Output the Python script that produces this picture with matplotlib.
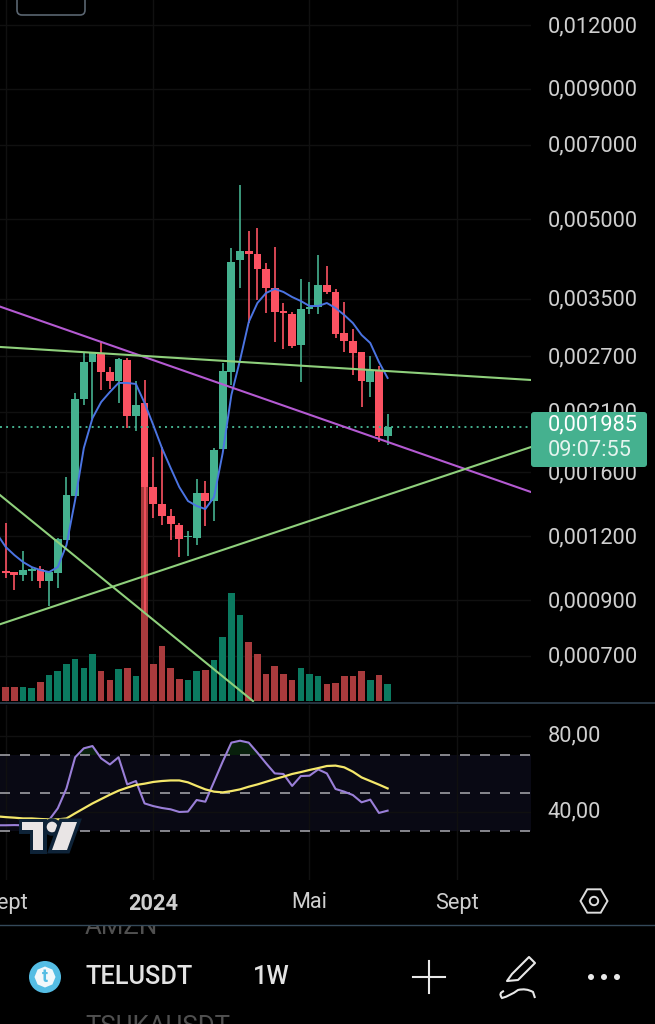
import numpy as np
import matplotlib
matplotlib.use("Agg")
import matplotlib.pyplot as plt
from matplotlib.patches import FancyBboxPatch, Polygon, Circle, RegularPolygon
from matplotlib.path import Path
from matplotlib.patches import PathPatch
from matplotlib.ticker import FixedLocator, FixedFormatter, NullLocator
from matplotlib.transforms import ScaledTranslation
import matplotlib.patheffects as pe

plt.rcParams['font.family'] = ['Roboto', 'DejaVu Sans']
plt.rcParams['lines.scale_dashes'] = False

# ---- data (prices in 1e-6 USDT) ----
opens  = [1025,1021,1007,1025,1034,981,1016,1179,1438,2226,2630,2739,2515,2414,2654,2062,2186,1497,1386,1315,1262,1195,1190,1457,1406,1777,2515,4164,4337,4278,3998,3671,3309,3264,2840,3339,3369,3721,3605,2996,2891,2751,2403,2525,1885]
highs  = [1274,1021,1122,1039,1049,1021,1190,1567,2288,2751,2751,2878,2572,2678,2678,2414,2425,1714,1793,1356,1274,1228,1553,1539,1785,2619,4394,5839,4744,4809,4108,4415,3430,3295,3822,3771,4260,4054,3655,3446,3052,2751,2703,2583,2080]
lows   = [994,942,981,981,951,876,951,1179,1438,2166,2034,2318,2329,2186,1954,1928,852,1302,1262,1179,1093,1099,1153,1256,1285,1777,2371,3671,3134,3477,3279,2878,2788,2801,2403,3264,3264,3572,2930,2751,2481,2147,2247,1835,1810]
closes = [1016,1007,1030,1034,981,1021,1185,1444,2226,2630,2739,2515,2414,2666,2062,2166,1497,1386,1315,1268,1185,1201,1457,1406,1769,2525,4127,4337,4278,3998,3671,3295,3279,2827,3339,3369,3721,3605,2982,2891,2739,2414,2537,1885,1963]
volumes = [14,14,14,13,19,26,30,37,42,33,47,30,21,32,33,25,250,37,55,33,22,21,30,31,41,64,108,86,59,47,27,35,27,21,33,27,25,17,18,25,25,30,21,26,17]

# moving average, starts one bar before the first candle
ma20 = [1212,1143,1102,1068,1044,1030,1021,1044,1153,1412,1785,2043,2196,2297,2393,2393,2382,2186,1980,1785,1632,1497,1406,1375,1356,1431,1745,2267,2654,3149,3430,3589,3655,3605,3524,3461,3384,3384,3430,3354,3250,3134,2970,2865,2630,2447]
rsi = [33,33,33.1,33,33,34,35.8,41.9,52.4,68.8,73.5,74.7,68.2,65,68.8,54.5,56.3,44.5,43.1,42.1,41.4,40,40.2,46.3,45.4,55.9,66.5,76.5,77.5,76.5,71.2,65.6,60.3,60,53.7,58.9,59.1,62.4,60.3,52.1,50.7,48.9,45.1,46.5,39.5,40.7]
rsi_ma = [37.7,37.3,37,36.6,36.6,36.3,36.1,36.1,36.6,39.3,41.9,44.5,46.8,49.1,51.2,52.8,54.2,54.9,55.8,56.3,56.6,56.6,55.6,53.7,51.9,50.7,50.3,51,51.9,53.3,54.5,55.9,57.3,58.6,60,61,62.1,63.1,64.2,64.4,63.5,61.2,58.2,56.3,54.4,52.4]

# trend lines: (bar index pair, price pair in 1e-6)
trend_magenta = ([-0.657, 60.52], [3375, 1464])
trend_flat    = ([-0.657, 60.52], [2814, 2425])
trend_rising  = ([-0.657, 60.52], [807, 1793])
trend_falling = ([-0.657, 28.49], [1444, 571])

last_line = 1963
price_ticks = [0.012, 0.009, 0.007, 0.005, 0.0035, 0.0027, 0.0021, 0.0016, 0.0012, 0.0009, 0.0007]
price_labels = ['0,012000','0,009000','0,007000','0,005000','0,003500','0,002700','0,002100','0,001600','0,001200','0,000900','0,000700']
time_ticks = [0, 17, 35, 52]
time_labels = ['Sept', '2024', 'Mai', 'Sept']
rsi_ticks = [80, 40]
rsi_labels = ['80,00', '40,00']
rsi_levels = [70, 50, 30]

# ---- styles ----
GREEN = '#45b18f'; RED = '#fb5262'
VGREEN = '#0b7a60'; VRED = '#a93b3d'
GRID = '#101010'; LABEL = '#cfcfcf'
FS = 15.7
W, H = 655, 1024
XLIM = (-0.657, 60.52)
PRICE_LIM = (0.000566, 0.01343)

fig = plt.figure(figsize=(W/100, H/100), dpi=100, facecolor='black')
def axpx(x0, y0, x1, y1, **kw):
    return fig.add_axes([x0/W, 1-y1/H, (x1-x0)/W, (y1-y0)/H], **kw)
def nudge(labels, up_px):
    off = ScaledTranslation(0, up_px/100, fig.dpi_scale_trans)
    for t in labels:
        t.set_transform(t.get_transform() + off)

idx = np.arange(len(opens))
ma_x = np.arange(-1, len(opens))

# price scale: grid and labels, lowest layer
ax = axpx(0, 0, 531, 703, facecolor='black')
ax.set_zorder(1)
ax.set_yscale('log')
ax.set_xlim(*XLIM); ax.set_ylim(*PRICE_LIM)
ax.yaxis.set_major_locator(FixedLocator(price_ticks))
ax.yaxis.set_major_formatter(FixedFormatter(price_labels))
ax.yaxis.set_minor_locator(NullLocator())
ax.yaxis.tick_right()
ax.tick_params(axis='y', which='major', length=0, pad=12, labelsize=FS, labelcolor=LABEL)
nudge(ax.get_yticklabels(), 1)
ax.set_xticks(time_ticks)
ax.tick_params(axis='x', length=0, labelbottom=False)
ax.grid(True, color=GRID, lw=1.0)
ax.set_axisbelow(True)
for s in ax.spines.values():
    s.set_visible(False)

# volume bars
ax_vol = axpx(0, 0, 531, 703)
ax_vol.set_zorder(2)
vcols = [VGREEN if c_ >= o_ else VRED for o_, c_ in zip(opens, closes)]
ax_vol.bar(idx, volumes, width=0.76, color=vcols)
ax_vol.set_xlim(*XLIM); ax_vol.set_ylim(-2, 701)
ax_vol.axis('off')

# candles and drawings
ax_c = axpx(0, 0, 531, 703)
ax_c.set_zorder(3)
ax_c.set_yscale('log')
ax_c.set_xlim(*XLIM); ax_c.set_ylim(*PRICE_LIM)
ax_c.axis('off')
o, h, l, c = [np.array(a) * 1e-6 for a in (opens, highs, lows, closes)]
cols = [GREEN if ci >= oi else RED for oi, ci in zip(o, c)]
ax_c.vlines(idx, l, h, colors=cols, lw=1.2, zorder=3)
ax_c.bar(idx, np.maximum(np.abs(c-o), 1e-6), bottom=np.minimum(o, c), width=0.9, color=cols, zorder=4)
ax_c.plot(ma_x, np.array(ma20)*1e-6, color='#4b74e2', lw=1.4, zorder=6)
for (xs, ys), col in [(trend_magenta, '#b45ad2'), (trend_flat, '#8fd07c'),
                      (trend_rising, '#8fd07c'), (trend_falling, '#8fd07c')]:
    ax_c.plot(xs, np.array(ys)*1e-6, color=col, lw=1.5, zorder=7)
ax_c.axhline(last_line*1e-6, color=GREEN, lw=1.4, ls=(0, (1.4, 3.0)), zorder=5)

# RSI panel
ax_r = axpx(0, 705, 531, 880, facecolor='black')
ax_r.set_zorder(1)
ax_r.set_xlim(*XLIM)
ax_r.set_ylim(4.2, 96.3)
ax_r.axhspan(rsi_levels[2], rsi_levels[0], color='#090914', lw=0, zorder=0)
ax_r.set_yticks(rsi_ticks)
ax_r.set_yticklabels(rsi_labels)
ax_r.yaxis.tick_right()
ax_r.tick_params(axis='y', length=0, pad=12, labelsize=FS, labelcolor=LABEL)
nudge(ax_r.get_yticklabels(), 2.5)
ax_r.set_xticks(time_ticks)
ax_r.set_xticklabels(time_labels)
ax_r.tick_params(axis='x', length=0, pad=9, labelsize=FS, labelcolor=LABEL)
ax_r.get_xticklabels()[1].set_fontweight('bold')
ax_r.grid(True, color=GRID, lw=1.0, zorder=1)
ax_r.set_axisbelow(True)
for s in ax_r.spines.values():
    s.set_visible(False)
for lv in rsi_levels:
    ax_r.axhline(lv, color='#9d9da3', lw=1.2, ls=(0, (7.2, 7.2)), zorder=2)
rv = np.array(rsi, float)
ax_r.fill_between(ma_x, 70, rv, where=rv > 70, interpolate=True, color='#08200c', lw=0, zorder=1.5)
ax_r.plot(ma_x, rsi, color='#9a7fd8', lw=1.5, zorder=3)
ax_r.plot(ma_x, rsi_ma, color='#f4e76a', lw=1.6, zorder=4)

# overlay in screen pixels for app furniture
ui = fig.add_axes([0, 0, 1, 1], facecolor='none')
ui.set_zorder(10)
ui.set_xlim(0, W); ui.set_ylim(H, 0); ui.axis('off')
ui.plot([0, W], [703, 703], color='#2e3f4d', lw=1.2)
ui.plot([0, W], [925, 925], color='#34495a', lw=1.0)

# top-left box
ui.add_patch(FancyBboxPatch((17, -30), 68, 45, boxstyle='round,pad=0,rounding_size=5',
                            fc='none', ec='#5a6570', lw=1.2))

# last-price tag
ui.add_patch(FancyBboxPatch((531, 412), 116, 55, boxstyle='round,pad=0,rounding_size=3',
                            fc=GREEN, ec='none', zorder=5))
ui.text(548, 425, '0,001985', color='white', fontsize=FS, va='center', ha='left', zorder=6)
ui.text(548, 451, '09:07:55', color='#e4f4ee', fontsize=FS, va='center', ha='left', zorder=6)

# TradingView logo
halo = [pe.withStroke(linewidth=5, foreground='#0e2338')]
lc = '#e9e5e5'
ui.add_patch(Polygon([(22, 822), (43, 822), (43, 850), (33, 850), (33, 830), (22, 830)],
                     fc=lc, ec='none', path_effects=halo, zorder=8))
ui.add_patch(Circle((52, 827), 5.3, fc=lc, ec='none', path_effects=halo, zorder=8))
ui.add_patch(Polygon([(62, 822), (77, 822), (67, 850), (52, 850)],
                     fc=lc, ec='none', path_effects=halo, zorder=8))

# settings hexagon
ui.add_patch(RegularPolygon((594, 901), 6, radius=13.5, orientation=np.pi/6,
                            fc='none', ec='#dddddd', lw=1.4))
ui.add_patch(Circle((594, 901), 4.2, fc='none', ec='#dddddd', lw=1.4))

# bottom bar
clip_top = plt.Rectangle((0, 926), W, 98, transform=ui.transData)
t = ui.text(85, 927, 'AMZN', color='#505050', fontsize=18.6, va='center', ha='left')
t.set_clip_on(True)
t.set_clip_path(clip_top)
ui.text(85, 1027, 'TSUKAUSDT', color='#505050', fontsize=18.6, va='center', ha='left')
ui.add_patch(Circle((45, 977), 16, fc='#55bde4', ec='none'))
ui.add_patch(RegularPolygon((45, 977), 8, radius=10.5, fc='#f3f8fb', ec='none'))
ui.text(45, 977, 't', color='#55bde4', fontsize=13, fontweight='bold', ha='center', va='center')
ui.text(85, 977, 'TELUSDT', color='#e3e3e3', fontsize=18.3, fontweight='medium', va='center', ha='left')
ui.text(253, 977, '1W', color='#e3e3e3', fontsize=18.3, fontweight='medium', va='center', ha='left')
ui.plot([413, 445], [977, 977], color='#e8e8e8', lw=1.5)
ui.plot([429, 429], [961, 993], color='#e8e8e8', lw=1.5)
ui.add_patch(Polygon([(507, 981), (512, 974), (529, 957), (535, 963), (518, 980)],
                     fc='none', ec='#e8e8e8', lw=1.5, joinstyle='round'))
sq = Path([(504, 991), (498, 993), (502, 998), (510, 996), (518, 990), (526, 988), (533, 992), (535, 998)],
          [Path.MOVETO, Path.CURVE3, Path.CURVE3, Path.CURVE3, Path.CURVE3, Path.CURVE3, Path.CURVE3, Path.LINETO])
ui.add_patch(PathPatch(sq, fc='none', ec='#e8e8e8', lw=1.5))
for x in (591, 604, 617):
    ui.add_patch(Circle((x, 977), 3, fc='#e8e8e8', ec='none'))

fig.savefig('out.png', dpi=100, facecolor='black')
